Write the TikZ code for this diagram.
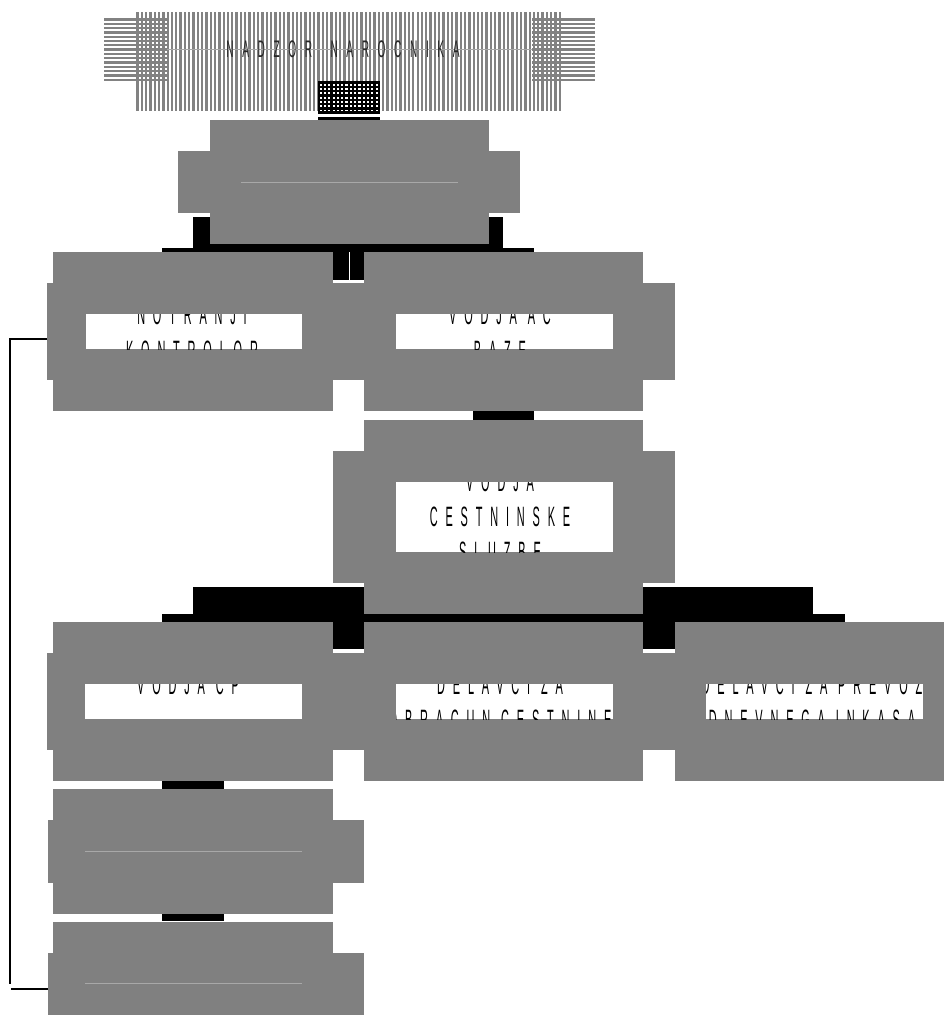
\documentclass[tikz,border=0pt]{standalone}
\usepackage{fontspec}
\newfontfamily\orgfont[FakeStretch=0.39,LetterSpace=28]{Liberation Sans}
\newfontfamily\topfont[FakeStretch=0.42,LetterSpace=36,WordSpace=1.6]{Liberation Sans}
\definecolor{boxgray}{HTML}{808080}
\definecolor{hatchgray}{HTML}{828282}
\definecolor{ghostline}{HTML}{A8A8A8}
\tikzset{
  mainbox/.style={fill=boxgray, draw=none},
  conn/.style={fill=black, draw=none},
  hatch/.style={draw=hatchgray, line width=2.3pt},
  txt/.style={font=\fontsize{28}{28}\orgfont, inner sep=0pt, anchor=base, text=black},
  ghost/.style={draw=ghostline, line width=0.8pt},
  thinline/.style={draw=black, line width=1.4pt},
}
\begin{document}
\begin{tikzpicture}[x=1pt,y=-1pt]
\useasboundingbox (0,0) rectangle (944,1015);
\clip (0,0) rectangle (944,1015);
\fill[white] (0,0) rectangle (944,1015);

% ---------- top box: NADZOR NAROCNIKA (hatched) ----------
\foreach \i in {0,...,98} \draw[hatch] ({137.5+4.31*\i},12) -- ({137.5+4.31*\i},111);
\foreach \j in {0,...,14} {
  \draw[hatch] (104,{19.5+4.3*\j}) -- (167,{19.5+4.3*\j});
  \draw[hatch] (532,{19.5+4.3*\j}) -- (595,{19.5+4.3*\j});
}
\draw[ghost] (167,49) -- (532,49);
\node[font=\fontsize{24}{24}\topfont, inner sep=0pt, anchor=base, text=black!85] (nadzor) at (343,57) {NADZOR NAROCNIKA};
\begin{scope}
  \clip (318,81) rectangle (380,112);
  \fill[white] (318,81) rectangle (380,112);
  \foreach \j in {0,...,7} \draw[black, line width=2.4pt] (318,{82.5+4.3*\j}) -- (380,{82.5+4.3*\j});
  \foreach \i in {42,...,57} \draw[black, line width=2.2pt] ({137.5+4.31*\i},81) -- ({137.5+4.31*\i},112);
\end{scope}
\fill[conn] (318,112.6) rectangle (380,114.2);
\fill[conn] (318,116.5) rectangle (380,119.5);

% ---------- black connector bars ----------
\fill[conn] (193,217) rectangle (503,248);
\fill[conn] (162,248) rectangle (534,252);
\fill[conn] (333,248) rectangle (364,280);
\draw[white, line width=0.8pt] (349,252) -- (349,280);
\draw[white, line width=1.2pt] (333,281.5) -- (364,281.5);
\fill[conn] (473,411) rectangle (534,420);
\fill[conn] (193,587) rectangle (364,614);
\fill[conn] (643,587) rectangle (813,614);
\fill[conn] (162,614) rectangle (845,622);
\fill[conn] (333,622) rectangle (364,649);
\fill[conn] (643,622) rectangle (675,649);
\draw[white, line width=1.2pt] (333,650.5) -- (364,650.5);
\draw[white, line width=1.2pt] (643,650.5) -- (675,650.5);
\fill[conn] (162,781) rectangle (224,789);
\fill[conn] (162,914) rectangle (224,921);

% ---------- gray boxes (main + wide rectangle) ----------
% box 2
\fill[mainbox] (210,120) rectangle (489,244);
\fill[mainbox] (178,151) rectangle (520,213);
\draw[ghost] (241,182) -- (458,182);
% notranji
\fill[mainbox] (53,252) rectangle (333,411);
\fill[mainbox] (47,283) rectangle (365,380);
% vodja ac baze
\fill[mainbox] (364,252) rectangle (643,411);
\fill[mainbox] (333,283) rectangle (675,380);
% vodja cestninske
\fill[mainbox] (364,420) rectangle (643,614);
\fill[mainbox] (333,451) rectangle (675,583);
% vodja cp
\fill[mainbox] (53,622) rectangle (333,781);
\fill[mainbox] (47,653) rectangle (365,750);
% delavci obracun
\fill[mainbox] (364,622) rectangle (643,781);
\fill[mainbox] (333,653) rectangle (675,750);
% delavci prevoz
\fill[mainbox] (675,622) rectangle (955,781);
\fill[mainbox] (643,653) rectangle (987,750);
% box A
\fill[mainbox] (53,789) rectangle (333,914);
\fill[mainbox] (48,820) rectangle (364,883);
\draw[ghost] (85,851) -- (302,851);
% box B
\fill[mainbox] (53,922) rectangle (333,1047);
\fill[mainbox] (48,953) rectangle (364,1016);
\draw[ghost] (85,983) -- (302,983);

% ---------- text windows ----------
\begin{scope}
  \clip (86,314) rectangle (302,349);
  \fill[white] (86,314) rectangle (302,349);
  \node[txt] (notr1) at (192,324) {NOTRANJI};
  \node[txt] (notr2) at (192,360) {KONTROLOR};
\end{scope}
\begin{scope}
  \clip (396,314) rectangle (613,349);
  \fill[white] (396,314) rectangle (613,349);
  \node[txt] (vac1) at (500,324) {VODJA AC};
  \node[txt] (vac2) at (500,360) {BAZE};
\end{scope}
\begin{scope}
  \clip (396,482) rectangle (613,552);
  \fill[white] (396,482) rectangle (613,552);
  \node[txt] (vcs1) at (500,491) {VODJA};
  \node[txt] (vcs2) at (500,526) {CESTNINSKE};
  \node[txt] (vcs3) at (500,561) {SLUZBE};
\end{scope}
\begin{scope}
  \clip (85,684) rectangle (302,719);
  \fill[white] (85,684) rectangle (302,719);
  \node[txt] (vcp1) at (188,694) {VODJA CP};
\end{scope}
\begin{scope}
  \clip (396,684) rectangle (613,719);
  \fill[white] (396,684) rectangle (613,719);
  \node[txt] (del1) at (500,694) {DELAVCI ZA};
  \node[txt] (del2) at (500,729) {OBRACUN CESTNINE};
\end{scope}
\begin{scope}
  \clip (706,684) rectangle (923,719);
  \fill[white] (706,684) rectangle (923,719);
  \node[txt] (pre1) at (812,694) {DELAVCI ZA PREVOZ};
  \node[txt] (pre2) at (812,729) {DNEVNEGA INKASA};
\end{scope}

% ---------- left connector ----------
\coordinate (notrw) at (47,339);
\coordinate (lefttop) at (10,339);
\coordinate (leftbot) at (10,984);
\coordinate (leftb2) at (11,989);
\coordinate (bw) at (48,989);
\draw[thinline] (notrw) -- (lefttop) -- (leftbot);
\draw[thinline] (leftb2) -- (bw);
\end{tikzpicture}
\end{document}
